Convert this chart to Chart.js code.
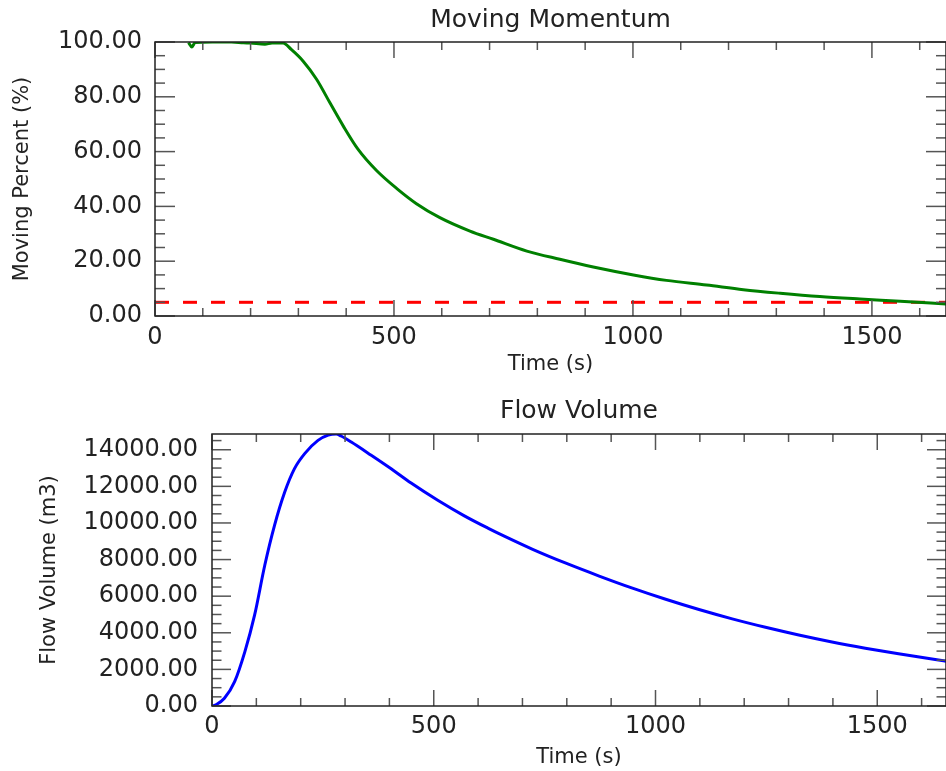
<!DOCTYPE html>
<html lang="en">
<head>
    <meta charset="UTF-8">
    <title>Moving Momentum / Flow Volume</title>
    <script src="https://cdn.jsdelivr.net/npm/chart.js"></script>
    <style>
        body { margin: 0; background: #fff; }
        canvas { position: absolute; left: 0; }
        #momentum { top: 0; }
        #flow { top: 390px; }
    </style>
</head>
<body>
    <canvas id="momentum" width="946" height="390"></canvas>
    <canvas id="flow" width="946" height="381"></canvas>

    <script>
        // top plot: moving percent over time
        const momTime = [70, 77, 84, 120, 160, 185, 200, 230, 245, 268, 285, 310, 338, 366, 394, 425, 464, 506, 547, 596, 659, 708, 778, 847, 917, 1001, 1070, 1154, 1231, 1308, 1391, 1475, 1559, 1655];
        const momPercent = [99.8, 98.2, 99.8, 100, 100, 99.7, 99.6, 99.2, 99.6, 99.6, 97.3, 93.0, 86.4, 77.8, 69.3, 60.8, 53.0, 46.5, 41.0, 35.9, 31.0, 28.0, 23.7, 20.7, 17.9, 15.0, 13.0, 11.3, 9.6, 8.3, 7.1, 6.2, 5.4, 4.4];
        const limitTime = [0, 1655];
        const limitPercent = [5, 5];

        // bottom plot: flow volume over time
        const flowTime = [0, 10, 28, 51, 74, 96, 119, 141, 164, 186, 209, 239, 262, 280, 291, 314, 359, 404, 449, 509, 569, 622, 659, 723, 798, 873, 948, 1023, 1098, 1173, 1248, 1323, 1398, 1473, 1548, 1638, 1655];
        const flowVolume = [0, 80, 420, 1330, 2960, 4960, 7690, 9870, 11690, 12970, 13790, 14510, 14800, 14860, 14750, 14420, 13700, 12960, 12180, 11240, 10390, 9720, 9280, 8560, 7800, 7100, 6440, 5830, 5270, 4760, 4300, 3880, 3500, 3160, 2850, 2510, 2450];

        // axis ranges and labelled tick values
        const timeMax = 1655;
        const flowMax = 14860;
        const timeTicks = [0, 500, 1000, 1500];
        const percentTicks = [0, 20, 40, 60, 80, 100];
        const flowTicks = [0, 2000, 4000, 6000, 8000, 10000, 12000, 14000];

        Chart.defaults.font.family = '"DejaVu Sans", sans-serif';
        Chart.defaults.color = '#222';

        const pts = (xs, ys) => xs.map((x, i) => ({ x: x, y: ys[i] }));
        const fixTicks = list => scale => { scale.ticks = list.map(v => ({ value: v })); };

        // IDL style box with inward ticks on every side
        const boxTicks = {
            id: 'boxTicks',
            afterDraw(chart, args, o) {
                const { ctx, chartArea: a, scales: { x, y } } = chart;
                ctx.save();
                ctx.strokeStyle = '#555';
                ctx.lineWidth = 1.5;
                const seg = (x1, y1, x2, y2) => { ctx.beginPath(); ctx.moveTo(x1, y1); ctx.lineTo(x2, y2); ctx.stroke(); };
                for (let i = 0; i * o.xMinor <= x.max; i++) {
                    const v = i * o.xMinor;
                    const px = x.getPixelForValue(v);
                    const len = v % o.xMajor === 0 ? o.xLen : o.xLen / 2;
                    seg(px, a.bottom, px, a.bottom - len);
                    seg(px, a.top, px, a.top + len);
                }
                for (let i = 0; i * o.yMinor <= y.max; i++) {
                    const v = i * o.yMinor;
                    const py = y.getPixelForValue(v);
                    const len = v % o.yMajor === 0 ? o.yLen : o.yLen / 2;
                    seg(a.left, py, a.left + len, py);
                    seg(a.right, py, a.right - len, py);
                }
                ctx.strokeStyle = '#222';
                ctx.strokeRect(a.left, a.top, a.right - a.left, a.bottom - a.top);
                ctx.restore();
            }
        };

        const tickFont = { size: 24 };
        const axisTitleFont = { size: 21 };
        const titleFont = { size: 25, weight: 'normal' };

        new Chart('momentum', {
            type: 'line',
            data: {
                datasets: [{
                    data: pts(momTime, momPercent),
                    borderColor: '#008000',
                    borderWidth: 3,
                    pointRadius: 0,
                    cubicInterpolationMode: 'monotone'
                }, {
                    data: pts(limitTime, limitPercent),
                    borderColor: '#ff0000',
                    borderWidth: 3,
                    borderDash: [14, 14],
                    pointRadius: 0
                }]
            },
            options: {
                responsive: false,
                animation: false,
                layout: { padding: 0 },
                plugins: {
                    legend: { display: false },
                    tooltip: { enabled: false },
                    title: {
                        display: true,
                        text: 'Moving Momentum',
                        fullSize: false,
                        font: titleFont,
                        padding: { top: 5, bottom: 7 }
                    },
                    boxTicks: { xMajor: 500, xMinor: 100, yMajor: 20, yMinor: 5, xLen: 16, yLen: 20 }
                },
                scales: {
                    x: {
                        type: 'linear',
                        min: 0,
                        max: timeMax,
                        afterBuildTicks: fixTicks(timeTicks),
                        grid: { display: false, drawTicks: false },
                        border: { display: false },
                        ticks: { padding: 7, font: tickFont, maxRotation: 0, autoSkip: false, callback: v => String(v) },
                        title: { display: true, text: 'Time (s)', font: axisTitleFont, padding: { top: 0, bottom: 13 } },
                        afterFit(s) { s.height = 74; s.paddingRight = 0; }
                    },
                    y: {
                        min: 0,
                        max: 100,
                        afterBuildTicks: fixTicks(percentTicks),
                        grid: { display: false, drawTicks: false },
                        border: { display: false },
                        ticks: { padding: 13, font: tickFont, autoSkip: false, callback: v => v.toFixed(2) },
                        title: { display: true, text: 'Moving Percent (%)', font: axisTitleFont, padding: { top: 10, bottom: 0 } },
                        afterFit(s) { s.width = 155; }
                    }
                }
            },
            plugins: [boxTicks]
        });

        new Chart('flow', {
            type: 'line',
            data: {
                datasets: [{
                    data: pts(flowTime, flowVolume),
                    borderColor: '#0000ff',
                    borderWidth: 3,
                    pointRadius: 0,
                    cubicInterpolationMode: 'monotone'
                }]
            },
            options: {
                responsive: false,
                animation: false,
                layout: { padding: 0 },
                plugins: {
                    legend: { display: false },
                    tooltip: { enabled: false },
                    title: {
                        display: true,
                        text: 'Flow Volume',
                        fullSize: false,
                        font: titleFont,
                        padding: { top: 6, bottom: 8 }
                    },
                    boxTicks: { xMajor: 500, xMinor: 100, yMajor: 2000, yMinor: 500, xLen: 16, yLen: 19 }
                },
                scales: {
                    x: {
                        type: 'linear',
                        min: 0,
                        max: timeMax,
                        afterBuildTicks: fixTicks(timeTicks),
                        grid: { display: false, drawTicks: false },
                        border: { display: false },
                        ticks: { padding: 6, font: tickFont, maxRotation: 0, autoSkip: false, callback: v => String(v) },
                        title: { display: true, text: 'Time (s)', font: axisTitleFont, padding: { top: 0, bottom: 1 } },
                        afterFit(s) { s.height = 65; s.paddingRight = 0; }
                    },
                    y: {
                        min: 0,
                        max: flowMax,
                        afterBuildTicks: fixTicks(flowTicks),
                        grid: { display: false, drawTicks: false },
                        border: { display: false },
                        ticks: { padding: 14, font: tickFont, autoSkip: false, callback: v => v.toFixed(2) },
                        title: { display: true, text: 'Flow Volume (m3)', font: axisTitleFont, padding: { top: 37, bottom: 0 } },
                        afterFit(s) { s.width = 212; }
                    }
                }
            },
            plugins: [boxTicks]
        });
    </script>
</body>
</html>
